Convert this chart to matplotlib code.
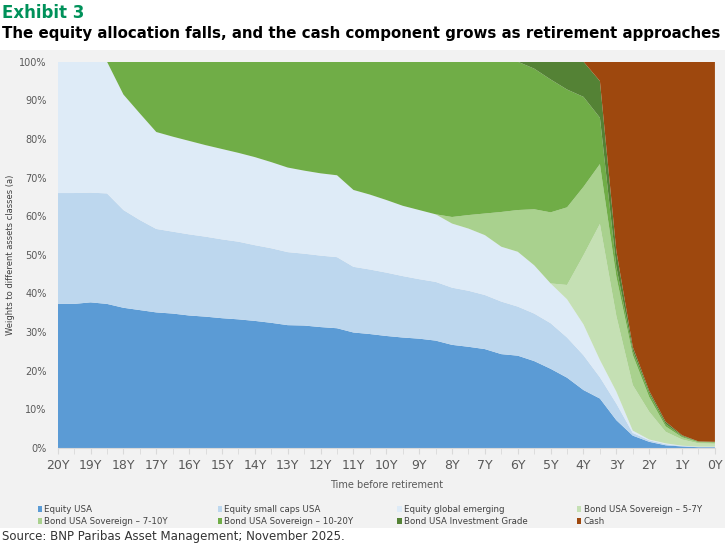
import numpy as np
import matplotlib
matplotlib.use("Agg")
import matplotlib.pyplot as plt
from matplotlib.patches import Rectangle

# years before retirement, half-year steps
years = np.arange(40, -1, -1) / 2.0
tick_years = list(range(20, -1, -1))
tick_labels = [f"{y}Y" for y in tick_years]

equity_usa = [37.3, 37.3, 37.7, 37.3, 36.3, 35.7, 35.1, 34.8, 34.3, 34.0,
              33.6, 33.3, 32.9, 32.4, 31.8, 31.7, 31.3, 31.0, 29.9, 29.5,
              29.0, 28.6, 28.3, 27.8, 26.7, 26.2, 25.6, 24.3, 23.9, 22.5,
              20.5, 18.2, 15.0, 12.8, 7.2, 3.2, 1.6, 0.7, 0.4, 0.2, 0.2]
small_caps = [28.7, 28.7, 28.4, 28.6, 25.3, 23.3, 21.6, 21.2, 21.0, 20.7,
              20.4, 20.1, 19.6, 19.3, 18.9, 18.6, 18.5, 18.4, 17.0, 16.7,
              16.4, 15.9, 15.4, 15.2, 14.8, 14.5, 14.0, 13.6, 12.7, 12.3,
              11.8, 10.4, 9.0, 5.5, 4.3, 0.7, 0.4, 0.3, 0.1, 0.1, 0.1]
emerging = [34.0, 34.0, 33.9, 34.1, 29.9, 27.6, 25.1, 24.6, 24.2, 23.7,
            23.4, 23.0, 22.8, 22.3, 21.9, 21.5, 21.3, 21.2, 19.9, 19.4,
            18.8, 18.2, 17.9, 17.5, 16.6, 16.1, 15.5, 14.2, 14.2, 12.5,
            10.3, 9.9, 8.0, 4.5, 3.1, 0.6, 0.2, 0.2, 0.1, 0.05, 0.05]
bond_5_7 = [0] * 30 + [0, 3.7, 17.9, 35.2, 19.6, 11.8, 7.2, 3.0, 1.6, 0.85, 0.75]
bond_7_10 = [0] * 24 + [1.7, 3.5, 5.6, 9.0, 10.8, 14.5,
                        18.4, 20.1, 17.7, 15.5, 10.2, 7.8, 3.8, 1.4, 0.6, 0.3, 0.3]
bond_10_20 = [0, 0, 0, 0, 8.5, 13.4, 18.2, 19.4, 20.5, 21.6,
              22.6, 23.6, 24.7, 26.0, 27.4, 28.2, 28.9, 29.4, 33.2, 34.4,
              35.8, 37.3, 38.4, 39.5, 40.2, 39.7, 39.3, 38.9, 38.4, 36.4,
              34.4, 30.5, 23.3, 12.0, 2.5, 1.1, 1.0, 0.6, 0.3, 0.15, 0.15]
bond_ig = [0] * 29 + [1.8, 4.6, 7.2, 9.1, 9.5, 4.1, 1.0, 0.6, 0.6, 0.2, 0.05, 0.05]
cash = [0] * 33 + [5.0, 49.0, 73.8, 85.2, 93.2, 96.7, 98.3, 98.4]

labels = ["Equity USA", "Equity small caps USA", "Equity global emerging",
          "Bond USA Sovereign \u2013 5-7Y", "Bond USA Sovereign \u2013 7-10Y",
          "Bond USA Sovereign \u2013 10-20Y", "Bond USA Investment Grade", "Cash"]
colors = ["#5b9bd5", "#bdd7ee", "#deebf7", "#c5e0b4",
          "#a9d18e", "#70ad47", "#548235", "#9e480e"]
series = [equity_usa, small_caps, emerging, bond_5_7,
          bond_7_10, bond_10_20, bond_ig, cash]

fig = plt.figure(figsize=(7.25, 5.46), dpi=100)
fig.patch.set_facecolor("white")
# grey chart panel
fig.patches.append(Rectangle((0, 0.033), 1, 0.876, transform=fig.transFigure,
                             facecolor="#f2f2f2", edgecolor="none", zorder=0))

ax = fig.add_axes([0.0796, 0.1795, 0.9065, 0.7075])
ax.set_zorder(2)
ax.set_facecolor("#f2f2f2")
ax.stackplot(years, *series, colors=colors, linewidth=0)

ax.set_xlim(20, 0)
ax.set_ylim(0, 100)
ax.set_xticks(tick_years)
ax.set_xticklabels(tick_labels, fontsize=9, color="#595959")
ax.set_xticks(years, minor=True)
ax.tick_params(axis="x", which="both", length=4, color="#d9d9d9", pad=4)
ax.set_yticks(range(0, 101, 10))
ax.set_yticklabels([f"{v}%" for v in range(0, 101, 10)], fontsize=7, color="#595959")
ax.tick_params(axis="y", length=0, pad=8)
for s in ["top", "right", "left"]:
    ax.spines[s].set_visible(False)
ax.spines["bottom"].set_color("#d9d9d9")

ax.set_xlabel("Time before retirement", fontsize=7, color="#595959", labelpad=6)
ax.set_ylabel("Weights to different assets classes (a)", fontsize=6, color="#404040", labelpad=3)

# legend, row by row like the original
for k, (lab, c) in enumerate(zip(labels, colors)):
    col, row = k % 4, k // 4
    x0 = 0.052 + col * 0.248
    y0 = 0.066 - row * 0.022
    fig.patches.append(Rectangle((x0, y0 - 0.004), 0.006, 0.011, transform=fig.transFigure,
                                 facecolor=c, edgecolor="none", zorder=3))
    fig.text(x0 + 0.009, y0 + 0.0015, lab, fontsize=6.2, color="#404040", va="center", zorder=3)

fig.text(0.003, 0.992, "Exhibit 3", fontsize=12, fontweight="bold", color="#00915a", va="top")
title = fig.text(0.003, 0.952,
                 "The equity allocation falls, and the cash component grows as retirement approaches",
                 fontsize=12, fontweight="bold", color="#000000", va="top")
# shrink the title so it fits the width like the original
renderer = fig.canvas.get_renderer()
w = title.get_window_extent(renderer).width
title.set_fontsize(12 * 718.0 / w)

fig.text(0.003, 0.017, "Source: BNP Paribas Asset Management; November 2025.",
         fontsize=8.5, color="#333333", va="center")

fig.savefig("out.png", dpi=100, facecolor=fig.get_facecolor())
